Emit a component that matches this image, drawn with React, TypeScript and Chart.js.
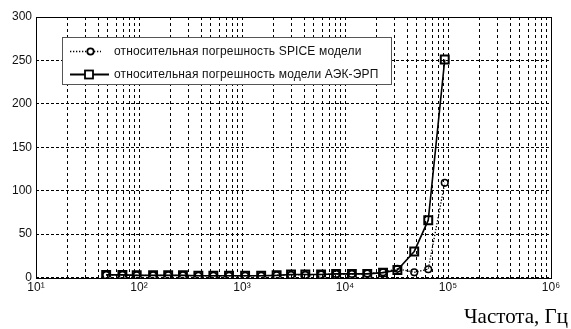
import React, { useEffect, useRef } from 'react';
import { Chart, registerables } from 'chart.js';

Chart.register(...registerables);

const frequencies = [48, 69, 95, 137, 192, 267, 377, 527, 748, 1072, 1535, 2168, 2993, 4120, 5860, 8200, 11660, 16440, 23400, 32250, 47000, 64300, 93000];
const spiceError = [3, 3, 2.5, 2.5, 2.5, 2.5, 2, 2, 2, 2, 2, 2.5, 3, 3, 3.5, 4, 4, 4.5, 6, 10, 6, 9.5, 109];
const aekError = [3, 3, 2.5, 2.5, 2.5, 2.5, 2, 2, 2, 2, 2, 2.5, 3.5, 3.5, 3.5, 4.2, 4.2, 4.2, 5.6, 8.7, 30, 66, 251];
const yTickValues = [0, 50, 100, 150, 200, 250, 300];
const xDecades = [10, 100, 1000, 10000, 100000, 1000000];
const xTickLabels = ['10¹', '10²', '10³', '10⁴', '10⁵', '10⁶'];
const legendLabels = ['относительная погрешность SPICE модели', 'относительная погрешность модели АЭК-ЭРП'];
const xAxisTitle = 'Частота, Гц';

const SANS = '"Liberation Sans", Arial, sans-serif';

const framePlugin = {
  id: 'frame',
  beforeDatasetsDraw(chart: any) {
    const { ctx, chartArea } = chart;
    ctx.save();
    ctx.strokeStyle = '#000';
    ctx.lineWidth = 1;
    ctx.setLineDash([]);
    const l = Math.round(chartArea.left) + 0.5;
    const t = Math.round(chartArea.top) + 0.5;
    const r = Math.round(chartArea.right) + 0.5;
    const b = Math.round(chartArea.bottom) + 0.5;
    ctx.strokeRect(l, t, r - l, b - t);
    ctx.restore();
  },
};

const legendPlugin = {
  id: 'boxLegend',
  afterDatasetsDraw(chart: any) {
    const { ctx } = chart;
    ctx.save();
    ctx.fillStyle = '#fff';
    ctx.fillRect(62.5, 37.5, 329, 47);
    ctx.strokeStyle = '#555';
    ctx.lineWidth = 1;
    ctx.setLineDash([]);
    ctx.strokeRect(62.5, 37.5, 329, 47);

    const y1 = 51.5;
    const y2 = 74.5;
    ctx.strokeStyle = '#000';
    ctx.lineWidth = 1.3;
    ctx.setLineDash([1.3, 1.7]);
    ctx.beginPath();
    ctx.moveTo(70, y1);
    ctx.lineTo(101, y1);
    ctx.stroke();
    ctx.setLineDash([]);
    ctx.fillStyle = '#fff';
    ctx.lineWidth = 1.8;
    ctx.beginPath();
    ctx.arc(90.5, y1, 3.2, 0, Math.PI * 2);
    ctx.fill();
    ctx.stroke();
    ctx.lineWidth = 1.8;
    ctx.beginPath();
    ctx.moveTo(70, y2);
    ctx.lineTo(109, y2);
    ctx.stroke();
    ctx.fillStyle = '#fff';
    ctx.fillRect(85, y2 - 4, 8, 8);
    ctx.strokeRect(85, y2 - 4, 8, 8);

    ctx.fillStyle = '#111';
    ctx.font = `12px ${SANS}`;
    (ctx as any).letterSpacing = '0.15px';
    ctx.textBaseline = 'middle';
    ctx.textAlign = 'left';
    ctx.fillText(legendLabels[0], 114, y1);
    ctx.fillText(legendLabels[1], 114, y2);
    ctx.restore();
  },
  afterDraw(chart: any) {
    const { ctx } = chart;
    ctx.save();
    ctx.fillStyle = '#000';
    ctx.font = `21px "Liberation Serif", "Times New Roman", serif`;
    ctx.textAlign = 'right';
    ctx.textBaseline = 'alphabetic';
    ctx.fillText(xAxisTitle, 568, 323);
    ctx.restore();
  },
};

export default function App() {
  const canvasRef = useRef<HTMLCanvasElement | null>(null);

  useEffect(() => {
    document.body.style.margin = '0';
    const canvas = canvasRef.current;
    if (!canvas) return;

    const spicePoints = frequencies.map((f, i) => ({ x: f, y: spiceError[i] }));
    const aekPoints = frequencies.map((f, i) => ({ x: f, y: aekError[i] }));

    const chart = new Chart(canvas, {
      type: 'line',
      data: {
        datasets: [
          {
            label: legendLabels[0],
            data: spicePoints,
            borderColor: '#000',
            borderWidth: 1.3,
            borderDash: [1.3, 1.7],
            pointStyle: 'circle',
            pointRadius: 3.3,
            pointBorderWidth: 1.6,
            pointBorderColor: '#000',
            pointBackgroundColor: 'rgba(0,0,0,0)',
            fill: false,
            tension: 0,
          },
          {
            label: legendLabels[1],
            data: aekPoints,
            borderColor: '#000',
            borderWidth: 1.6,
            pointStyle: 'rect',
            pointRadius: 5.6,
            pointBorderWidth: 2,
            pointBorderColor: '#000',
            pointBackgroundColor: 'rgba(0,0,0,0)',
            fill: false,
            tension: 0,
          },
        ],
      },
      options: {
        responsive: false,
        animation: false,
        layout: { padding: { top: 17, right: 20, left: 0, bottom: 0 } },
        plugins: {
          legend: { display: false },
          tooltip: { enabled: false },
          title: { display: false },
        },
        scales: {
          x: {
            type: 'logarithmic',
            min: 10,
            max: 1000000,
            afterBuildTicks: (scale: any) => {
              const ticks: { value: number }[] = [];
              for (let d = 0; d < xDecades.length; d++) {
                const base = xDecades[d];
                if (d === xDecades.length - 1) {
                  ticks.push({ value: base });
                } else {
                  for (let m = 1; m <= 9; m++) ticks.push({ value: base * m });
                }
              }
              scale.ticks = ticks;
            },
            afterFit: (scale: any) => {
              scale.height = 51.5;
            },
            grid: {
              color: '#000',
              lineWidth: 1,
              drawTicks: false,
            },
            border: { display: false, dash: [3, 3] },
            ticks: {
              autoSkip: false,
              maxRotation: 0,
              padding: 3,
              color: '#111',
              font: { family: SANS, size: 12 },
              callback: (value: any) => {
                const idx = xDecades.indexOf(Number(value));
                return idx >= 0 ? xTickLabels[idx] : '';
              },
            },
          },
          y: {
            type: 'linear',
            min: 0,
            max: 300,
            afterBuildTicks: (scale: any) => {
              scale.ticks = yTickValues.map((v) => ({ value: v }));
            },
            afterFit: (scale: any) => {
              scale.width = 36;
            },
            grid: {
              color: '#000',
              lineWidth: 1,
              drawTicks: false,
            },
            border: { display: false, dash: [3, 2] },
            ticks: {
              padding: 4,
              color: '#111',
              font: { family: SANS, size: 12 },
            },
          },
        },
      },
      plugins: [framePlugin, legendPlugin],
    });

    return () => {
      chart.destroy();
    };
  }, []);

  return (
    <div style={{ width: 571, height: 329 }}>
      <canvas ref={canvasRef} width={571} height={329} style={{ display: 'block', width: 571, height: 329 }} />
    </div>
  );
}
